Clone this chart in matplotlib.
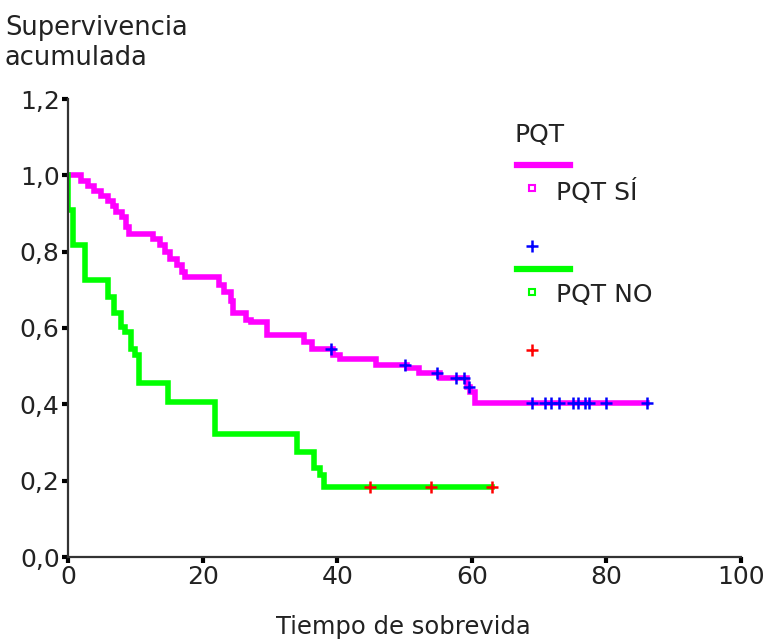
import matplotlib.pyplot as plt
import numpy as np
from matplotlib.lines import Line2D

# Kaplan-Meier steps
si_times = [0, 1.9, 2.9, 3.9, 4.9, 5.9, 6.7, 7.2, 8.0, 8.6, 9.0, 12.6, 13.6, 14.4,
            15.2, 16.2, 16.9, 17.4, 22.4, 23.2, 24.2, 24.5, 26.4, 27.2, 29.6, 35.0,
            36.3, 39.4, 40.4, 45.8, 50.4, 52.2, 55.3, 59.3, 59.7, 60.5]
si_surv = [1.0, 0.986, 0.973, 0.959, 0.946, 0.932, 0.919, 0.905, 0.892, 0.865, 0.845,
           0.834, 0.818, 0.800, 0.780, 0.764, 0.748, 0.734, 0.713, 0.695, 0.670, 0.638,
           0.622, 0.615, 0.581, 0.564, 0.546, 0.530, 0.520, 0.504, 0.494, 0.483, 0.468,
           0.446, 0.432, 0.403]
si_censored = [39.1, 50.1, 54.9, 57.7, 58.9, 59.6, 69.0, 70.9, 71.7, 72.9, 75.1, 75.8,
               76.8, 77.4, 79.9, 86.1]

no_times = [0, 0, 0.8, 2.5, 6.0, 6.9, 7.9, 8.5, 9.3, 9.9, 10.6, 14.8, 21.9, 34.0,
            36.6, 37.4, 38.1]
no_surv = [1.0, 0.909, 0.818, 0.727, 0.682, 0.640, 0.603, 0.590, 0.546, 0.529, 0.455,
           0.407, 0.322, 0.276, 0.233, 0.215, 0.184]
no_censored = [44.8, 54.0, 63.0]

y_ticks = [0.0, 0.2, 0.4, 0.6, 0.8, 1.0, 1.2]
x_ticks = [0, 20, 40, 60, 80, 100]

MAGENTA = "#ff00ff"
GREEN = "#00ff00"
BLUE = "#0000ff"
RED = "#ff0000"
AXIS = "#333333"
TXT = "#222222"


def km_curve(ax, times, surv, censored, color, cens_color):
    t = list(times) + [max(censored)]
    s = list(surv) + [surv[-1]]
    ax.step(t, s, where="post", color=color, lw=4.0, solid_joinstyle="miter", zorder=2)
    idx = np.searchsorted(times, censored, side="right") - 1
    cy = np.array(surv)[idx]
    ax.plot(censored, cy, ls="none", marker="+", color=cens_color, ms=9, mew=1.8, zorder=3)


fig = plt.figure(figsize=(7.8, 6.44), dpi=100)
ax = fig.add_axes([68 / 780, 87 / 644, 673 / 780, 458 / 644])

km_curve(ax, si_times, si_surv, si_censored, MAGENTA, BLUE)
km_curve(ax, no_times, no_surv, no_censored, GREEN, RED)

ax.set_xlim(0, 100)
ax.set_ylim(0, 1.2)
ax.set_xticks(x_ticks)
ax.set_yticks(y_ticks)
ax.set_yticklabels([f"{v:.1f}".replace(".", ",") for v in y_ticks])
ax.set_xticklabels([str(v) for v in x_ticks])
for side in ["top", "right"]:
    ax.spines[side].set_visible(False)
for side in ["left", "bottom"]:
    ax.spines[side].set_color(AXIS)
    ax.spines[side].set_linewidth(1.6)
ax.tick_params(axis="both", direction="out", length=4, width=3, color="black",
               labelsize=18, labelcolor=TXT, pad=2)

fig.text(5 / 780, 1 - 43 / 644, "Supervivencia\nacumulada", fontsize=18.5,
         color=TXT, ha="left", va="center", linespacing=1.2)
fig.text(403 / 780, 1 - 627 / 644, "Tiempo de sobrevida", fontsize=17.5,
         color=TXT, ha="center", va="center")

# legend drawn the way the original software lays it out
tr = ax.transAxes
ax.text(0.664, 0.921, "PQT", transform=tr, fontsize=18, color=TXT,
        ha="left", va="center")
entries = [(MAGENTA, BLUE, "PQT SÍ", 0.856), (GREEN, RED, "PQT NO", 0.629)]
for col, ccol, lab, y0 in entries:
    ax.add_line(Line2D([0.667, 0.746], [y0, y0], transform=tr, color=col, lw=4.5,
                       clip_on=False))
    ax.add_line(Line2D([0.689], [y0 - 0.05], transform=tr, ls="none", marker="s",
                       ms=5, mfc="white", mec=col, mew=1.5, clip_on=False))
    ax.text(0.725, y0 - 0.058, lab, transform=tr, fontsize=18, color=TXT,
            ha="left", va="center")
    ax.add_line(Line2D([0.689], [y0 - 0.177], transform=tr, ls="none", marker="+",
                       ms=9, color=ccol, mew=1.8, clip_on=False))

fig.savefig("out.png", dpi=100)
